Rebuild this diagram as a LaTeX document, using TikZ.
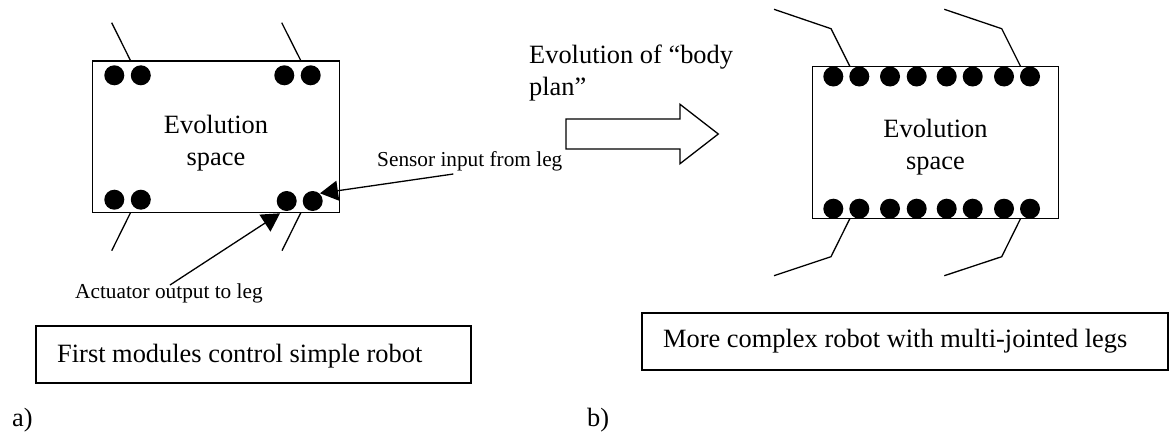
\documentclass[tikz,border=0pt]{standalone}
\usepackage{fontspec}
\setmainfont{Liberation Serif}
\usetikzlibrary{arrows.meta}
\begin{document}
\begin{tikzpicture}[x=1pt,y=-1pt,
  bigtext/.style={font=\fontsize{26.4}{32}\selectfont, inner sep=0pt},
  smalltext/.style={font=\fontsize{21.3}{26}\selectfont, inner sep=0pt, anchor=base west},
  dot/.style={circle, fill=black, draw=none, inner sep=0pt, minimum size=20pt},
  frame/.style={draw=black, line width=1.3pt},
  capframe/.style={draw=black, line width=1.8pt},
  leg/.style={draw=black, line width=1.3pt},
  pointer/.style={draw=black, line width=1.3pt, -{Triangle[length=18pt,width=20pt]}}
]
\useasboundingbox (0,0) rectangle (1170,434);

% ---------- a) simple robot ----------
\draw[frame] (92.7,61) rectangle (339.3,212.3);
\node[dot] (atl1) at (114.3,75.3) {};
\node[dot] (atl2) at (140.8,75.3) {};
\node[dot] (atr1) at (284.3,75.3) {};
\node[dot] (atr2) at (310.7,75.3) {};
\node[dot] (abl1) at (114.3,199.7) {};
\node[dot] (abl2) at (140.8,199.7) {};
\node[dot] (abr1) at (286.7,201) {};
\node[dot] (abr2) at (312.7,201) {};

\draw[leg] (111.7,22.7) -- (130.7,61);
\draw[leg] (281.7,22.7) -- (301,61);
\draw[leg] (130.7,212.3) -- (111.7,250.7);
\draw[leg] (301,212.3) -- (282,250.7);

\node[bigtext, anchor=base] (aev) at (216,133.3) {Evolution};
\node[bigtext, anchor=base] (asp) at (216,165.3) {space};

\node[smalltext] (sensor) at (377,166.7) {Sensor input from leg};
\node[smalltext] (actuator) at (75,298) {Actuator output to leg};

\coordinate (sensstart) at (453.3,174);
\coordinate (senstip) at (320,193.3);
\coordinate (actstart) at (170,285);
\coordinate (acttip) at (280,213.3);
\draw[pointer] (sensstart) -- (senstip);
\draw[pointer] (actstart) -- (acttip);

% ---------- evolution arrow ----------
\node[bigtext, anchor=base west] (evo1) at (529,63.3) {Evolution of “body};
\node[bigtext, anchor=base west] (evo2) at (529,95.3) {plan”};
\draw[line width=1.3pt, line join=miter]
  (566,119) -- (680,119) -- (680,104.3) -- (718.3,134) -- (680,163.7) -- (680,149) -- (566,149) -- cycle;

% ---------- b) complex robot ----------
\draw[frame] (812.3,66.7) rectangle (1058.3,218.3);
\foreach \i/\x in {1/833.3,2/859.3,3/890,4/916.7,5/946.7,6/972.7,7/1004,8/1030}{
  \node[dot] (bt\i) at (\x,76.5) {};
  \node[dot] (bb\i) at (\x,208.7) {};
}
\draw[leg] (774,9.3) -- (831,28.7) -- (850,66.7);
\draw[leg] (944.3,9.3) -- (1001.7,28.7) -- (1020.7,66.7);
\draw[leg] (850,218.3) -- (831,256.7) -- (774,275.7);
\draw[leg] (1020.7,218.3) -- (1001.7,256.7) -- (944.3,275.7);

\node[bigtext, anchor=base] (bev) at (935.5,137.7) {Evolution};
\node[bigtext, anchor=base] (bsp) at (935.5,169.7) {space};

% ---------- captions ----------
\draw[capframe] (36,326) rectangle (471,383);
\node[bigtext, anchor=base west] (capa) at (57,362) {First modules control simple robot};
\draw[capframe] (642,313) rectangle (1168,370);
\node[bigtext, anchor=base west] (capb) at (663,347) {More complex robot with multi-jointed legs};

\node[bigtext, anchor=base west] (la) at (12,426) {a)};
\node[bigtext, anchor=base west] (lb) at (587,426) {b)};
\end{tikzpicture}
\end{document}
